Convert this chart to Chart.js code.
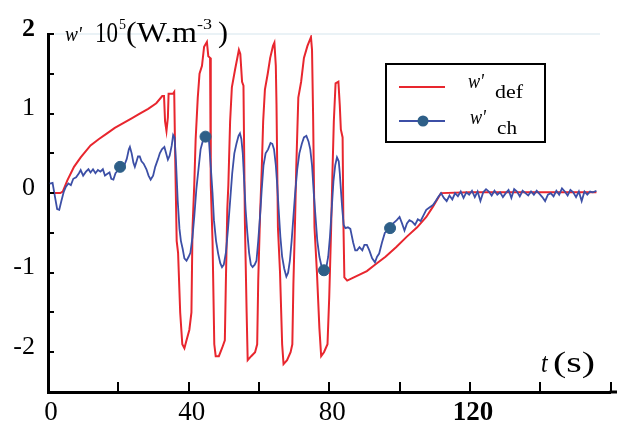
<!DOCTYPE html>
<html>
<head>
<meta charset="utf-8">
<script src="https://cdn.jsdelivr.net/npm/chart.js@4.4.1/dist/chart.umd.min.js"></script>
<style>
html,body{margin:0;padding:0;background:#fff;}
canvas{display:block;}
</style>
</head>
<body>
<canvas id="c" width="617" height="425"></canvas>
<script>
// ---- data ----
const redT = [0,3.5,4.2,5.5,7.4,9.3,12.1,14.5,16.8,19.0,21.4,23.8,26.1,28.5,30.8,32.5,33.0,33.3,33.7,34.1,34.3,35.6,35.9,36.2,36.6,37.0,37.6,38.2,38.8,39.4,40.2,40.8,41.1,41.6,42.0,42.6,43.1,43.8,44.4,45.2,45.6,46.1,46.3,46.8,47.3,47.7,48.6,49.5,50.3,50.6,51.0,51.3,51.8,52.3,53.2,54.3,54.7,55.2,55.6,56.0,56.5,56.8,57.8,58.9,59.5,59.8,60.3,60.8,61.2,61.7,62.5,63.2,64.0,64.4,64.8,65.0,65.4,66.0,66.6,67.0,68.0,69.0,69.5,69.8,70.3,70.6,71.2,72.0,72.8,73.8,74.8,75.1,75.4,75.8,76.5,77.2,77.7,78.5,79.5,80.0,80.5,80.9,81.3,81.8,82.6,83.0,83.3,83.8,84.0,84.3,85.1,87.0,90.7,93.0,96.0,99.0,102.0,105.0,107.6,109.5,111.8,120,130,140,150,156];
const redV = [0,0,0.02,0.16,0.33,0.45,0.6,0.68,0.75,0.82,0.88,0.94,1.0,1.06,1.13,1.22,1.22,0.9,0.78,0.95,1.25,1.25,1.27,0.4,-0.6,-0.75,-1.5,-1.9,-1.95,-1.85,-1.72,-1.5,-0.45,0.1,0.68,1.2,1.5,1.6,1.84,1.9,1.72,1.7,0.1,-0.6,-1.9,-2.05,-2.05,-1.95,-1.85,-1.1,-0.2,0.1,0.9,1.33,1.55,1.8,1.75,1.4,1.35,-0.35,-1.5,-2.1,-2.05,-2.0,-1.9,-1.1,-0.3,0.3,0.9,1.3,1.5,1.7,1.85,1.89,1.6,1.1,-0.43,-1.0,-1.9,-2.15,-2.1,-2.0,-1.9,-1.15,-0.3,0.3,1.2,1.4,1.7,1.85,1.96,1.8,1.0,-0.43,-1.0,-1.7,-2.05,-2.0,-1.9,-1.3,-0.5,0.24,0.9,1.38,1.4,1.1,0.8,0.7,-0.3,-1.06,-1.1,-1.06,-0.98,-0.9,-0.8,-0.68,-0.55,-0.43,-0.3,-0.17,0.0,0.01,0.01,0.01,0.01,0.01];

const blueT = [0.5,1.3,2.0,2.6,3.2,3.8,4.5,5.1,5.8,6.5,7.2,8.0,8.8,9.3,10.0,10.8,11.5,12.1,12.8,13.5,14.2,14.9,15.6,16.2,16.8,17.5,18.0,18.6,19.2,19.8,20.5,21.2,21.8,22.4,23.0,23.3,23.8,24.3,24.7,25.2,25.6,26.1,26.6,27.2,28.0,28.6,29.2,29.9,30.5,31.3,31.8,32.4,33.1,33.6,34.1,34.6,35.2,35.6,36.0,36.4,36.9,37.4,37.8,38.3,38.8,39.4,40.0,40.5,41.1,41.6,42.2,42.8,43.4,44.0,44.7,45.3,45.8,46.3,46.8,47.2,47.8,48.4,49.0,49.5,50.0,50.6,51.2,51.8,52.4,53.0,53.6,54.2,54.6,55.0,55.4,55.8,56.2,56.7,57.2,57.7,58.2,58.8,59.3,59.8,60.3,60.8,61.3,61.9,62.6,63.3,63.8,64.3,64.8,65.2,65.6,66.1,66.6,67.2,67.8,68.3,68.8,69.3,69.8,70.3,70.9,71.5,72.2,72.8,73.5,74.1,74.6,75.1,75.6,76.1,76.6,77.2,77.8,78.5,79.1,79.7,80.2,80.7,81.2,81.7,82.2,82.7,83.0,83.3,83.7,84.1,84.6,85.3,86.0,86.8,87.4,87.9,88.6,89.4,90.0,90.7,91.4,92.2,93.0,93.6,94.2,95.0,95.8,96.5,97.3,98.2,99.2,100.0,100.7,101.4,102.1,102.8,103.6,104.4,105.2,106.0,106.8,107.6,108.5,109.5,110.3,111.0,111.8,112.6,113.4,114.2,115.0,115.8,116.6,117.4,118.2,119.0,119.8,120.6,121.4,122.2,123.0,123.8,124.6,125.4,126.2,127.0,127.8,128.6,129.4,130.2,131.0,131.8,132.6,133.4,134.2,135.0,135.8,136.6,137.4,138.2,139.0,139.8,140.6,141.4,142.2,143.0,143.8,144.6,145.4,146.2,147.0,147.8,148.6,149.4,150.2,151.0,151.8,152.6,153.4,154.2,155.0,156.0];
const blueV = [0.12,0.13,-0.05,-0.2,-0.21,-0.1,0.02,0.08,0.12,0.1,0.18,0.2,0.25,0.29,0.22,0.27,0.3,0.26,0.3,0.25,0.29,0.27,0.3,0.22,0.24,0.26,0.18,0.17,0.25,0.28,0.33,0.3,0.36,0.43,0.55,0.58,0.5,0.38,0.33,0.4,0.46,0.46,0.4,0.37,0.3,0.22,0.17,0.22,0.33,0.43,0.5,0.55,0.58,0.5,0.42,0.47,0.6,0.73,0.7,0.4,-0.1,-0.45,-0.6,-0.7,-0.82,-0.85,-0.8,-0.75,-0.55,-0.3,0.05,0.3,0.55,0.65,0.7,0.72,0.65,0.33,0.0,-0.34,-0.6,-0.76,-0.88,-0.93,-0.9,-0.75,-0.45,-0.1,0.25,0.5,0.62,0.72,0.75,0.68,0.5,0.15,-0.2,-0.5,-0.75,-0.9,-0.93,-0.9,-0.85,-0.6,-0.3,0.05,0.35,0.5,0.55,0.63,0.62,0.55,0.35,0.1,-0.2,-0.55,-0.8,-0.95,-1.05,-1.0,-0.85,-0.6,-0.3,0.0,0.3,0.5,0.62,0.7,0.72,0.65,0.55,0.35,0.0,-0.3,-0.6,-0.8,-0.92,-0.97,-0.95,-0.8,-0.55,-0.2,0.15,0.35,0.45,0.4,0.25,0.05,-0.2,-0.4,-0.44,-0.43,-0.45,-0.62,-0.72,-0.72,-0.68,-0.72,-0.65,-0.65,-0.72,-0.82,-0.87,-0.8,-0.76,-0.62,-0.5,-0.47,-0.44,-0.38,-0.34,-0.3,-0.38,-0.47,-0.38,-0.34,-0.36,-0.4,-0.33,-0.35,-0.28,-0.21,-0.18,-0.15,-0.1,-0.05,0.0,-0.06,-0.1,-0.03,-0.08,0.0,-0.04,0.02,-0.06,0.01,-0.02,0.03,-0.05,0.02,-0.1,0.01,0.05,0.02,-0.03,0.03,-0.02,0.01,-0.05,0.0,0.04,-0.06,0.05,0.02,-0.04,0.03,0.0,-0.03,0.02,-0.02,0.03,-0.01,-0.05,-0.1,-0.02,0.0,-0.04,0.03,-0.02,0.06,0.02,-0.03,0.04,0.01,-0.05,0.02,-0.1,0.02,-0.02,0.02,0.01,0.03];

const markerT = [20.5, 44.8, 78.5, 97.3];
const markerV = [0.33, 0.71, -0.97, -0.44];

const xLabelValues = [0, 40, 80, 120];
const yLabelValues = [-2, -1, 0, 1, 2];
const legendNames = ['def', 'ch'];

// ---- build datasets ----
const redData = redT.map((t, i) => ({x: t, y: redV[i]}));
const blueData = blueT.map((t, i) => ({x: t, y: blueV[i]}));
const markerData = markerT.map((t, i) => ({x: t, y: markerV[i]}));

const RED = '#e8262e';
const BLUE = '#3c4fa6';
const MARK = '#2e5f88';

const SERIF = '"Liberation Serif", "Times New Roman", serif';

// draw text with vertical stretch; optionally fit to a target width
function stretchedText(ctx, txt, x, y, font, sy, targetW) {
  ctx.save();
  ctx.font = font;
  const w = ctx.measureText(txt).width;
  const sx = targetW ? targetW / w : 1;
  ctx.translate(x, y);
  ctx.scale(sx, sy);
  ctx.fillText(txt, 0, 0);
  ctx.restore();
  return w * sx;
}

const decor = {
  id: 'decor',
  afterDatasetsDraw(chart) {
    const ctx = chart.ctx;
    const xs = chart.scales.x, ys = chart.scales.y;
    const ca = chart.chartArea;
    ctx.save();
    // faint top line
    ctx.strokeStyle = '#eaf2f6';
    ctx.lineWidth = 2;
    ctx.beginPath(); ctx.moveTo(55, ca.top); ctx.lineTo(600, ca.top); ctx.stroke();
    // x-axis line extension to the right edge
    ctx.strokeStyle = '#000';
    ctx.lineWidth = 3;
    ctx.beginPath(); ctx.moveTo(ca.right - 1, ca.bottom); ctx.lineTo(chart.width, ca.bottom); ctx.stroke();
    // inward ticks
    ctx.lineWidth = 2;
    ys.ticks.forEach(t => {
      const py = Math.round(ys.getPixelForValue(t.value));
      ctx.beginPath(); ctx.moveTo(ca.left, py); ctx.lineTo(ca.left + 6, py); ctx.stroke();
    });
    xs.ticks.forEach(t => {
      if (t.value === 0) return;
      const px = Math.round(xs.getPixelForValue(t.value));
      ctx.beginPath(); ctx.moveTo(px, ca.bottom); ctx.lineTo(px, ca.bottom - 10); ctx.stroke();
    });
    ctx.restore();
  },
  afterDraw(chart) {
    const ctx = chart.ctx;
    ctx.save();
    ctx.fillStyle = '#000';
    ctx.textBaseline = 'alphabetic';
    ctx.textAlign = 'left';
    // axis title  w' 10^5 (W.m^-3)
    const base = 42;
    stretchedText(ctx, "w'", 65, base - 1, 'italic 19px ' + SERIF, 1.1, 17);
    stretchedText(ctx, '10', 95, base, '23px ' + SERIF, 1.25, 23);
    stretchedText(ctx, '5', 119, base - 13, '14px ' + SERIF, 1.1, 7);
    stretchedText(ctx, '(W.m', 126, base, '23px ' + SERIF, 1.25, 71);
    stretchedText(ctx, '-3', 197, base - 13, '14px ' + SERIF, 1.1, 15);
    stretchedText(ctx, ')', 218, base, '23px ' + SERIF, 1.25, 10);

    // t (s)
    stretchedText(ctx, 't', 541, 372, 'italic 24px ' + SERIF, 1.15);
    stretchedText(ctx, '(s)', 553, 372, '26px ' + SERIF, 1.15, 42);

    // legend box
    ctx.strokeStyle = '#000';
    ctx.lineWidth = 2;
    ctx.strokeRect(386, 64, 159, 78);
    // red sample
    ctx.strokeStyle = RED; ctx.lineWidth = 2;
    ctx.beginPath(); ctx.moveTo(399, 87); ctx.lineTo(445, 87); ctx.stroke();
    // blue sample
    ctx.strokeStyle = BLUE;
    ctx.beginPath(); ctx.moveTo(399, 121); ctx.lineTo(445, 121); ctx.stroke();
    ctx.fillStyle = MARK;
    ctx.beginPath(); ctx.arc(423, 121, 5.5, 0, Math.PI * 2); ctx.fill();
    ctx.fillStyle = '#000';
    stretchedText(ctx, "w'", 468, 88, 'italic 20px ' + SERIF, 1.1, 16);
    stretchedText(ctx, legendNames[0], 495, 98, '18px ' + SERIF, 1.1, 28);
    stretchedText(ctx, "w'", 470, 124, 'italic 20px ' + SERIF, 1.1, 16);
    stretchedText(ctx, legendNames[1], 497, 134, '18px ' + SERIF, 1.1, 20);
    ctx.restore();
  }
};

Chart.defaults.font.family = SERIF;
Chart.defaults.color = '#000';

new Chart(document.getElementById('c'), {
  type: 'scatter',
  data: {
    datasets: [
      { label: "w' def", data: redData, showLine: true, borderColor: RED, borderWidth: 2,
        pointRadius: 0, fill: false, tension: 0, order: 2 },
      { label: "w' ch", data: blueData, showLine: true, borderColor: BLUE, borderWidth: 1.8,
        pointRadius: 0, fill: false, tension: 0, order: 1 },
      { label: 'markers', data: markerData, showLine: false, pointRadius: 5.5,
        pointBackgroundColor: MARK, pointBorderColor: MARK, pointBorderWidth: 1, order: 0 }
    ]
  },
  options: {
    responsive: false,
    animation: false,
    devicePixelRatio: 1,
    layout: { padding: { top: 34, right: 4, left: 0, bottom: 0 } },
    plugins: { legend: { display: false }, tooltip: { enabled: false }, title: { display: false } },
    scales: {
      x: {
        type: 'linear', min: 0, max: 160,
        grid: { display: false, drawTicks: false },
        border: { display: true, color: '#000', width: 3 },
        afterFit(s) { s.height = 33; },
        ticks: {
          stepSize: 20, autoSkip: false, maxRotation: 0, padding: 5, labelOffset: 3,
          color: '#000',
          font: (c) => ({ family: SERIF, size: 27, weight: (c.tick && c.tick.value === 120) ? 'bold' : 'normal' }),
          callback: (v) => xLabelValues.includes(v) ? String(v) : ''
        }
      },
      y: {
        type: 'linear', min: -2.5, max: 2,
        grid: { display: false, drawTicks: false },
        border: { display: true, color: '#000', width: 3 },
        afterFit(s) { s.width = 48; },
        ticks: {
          stepSize: 0.5, autoSkip: false, padding: 13, labelOffset: -5,
          color: '#000',
          font: (c) => ({ family: SERIF, size: 26, weight: (c.tick && c.tick.value === 2) ? 'bold' : 'normal' }),
          callback: (v) => yLabelValues.includes(v) ? String(v) : ''
        }
      }
    }
  },
  plugins: [decor]
});
</script>
</body>
</html>
